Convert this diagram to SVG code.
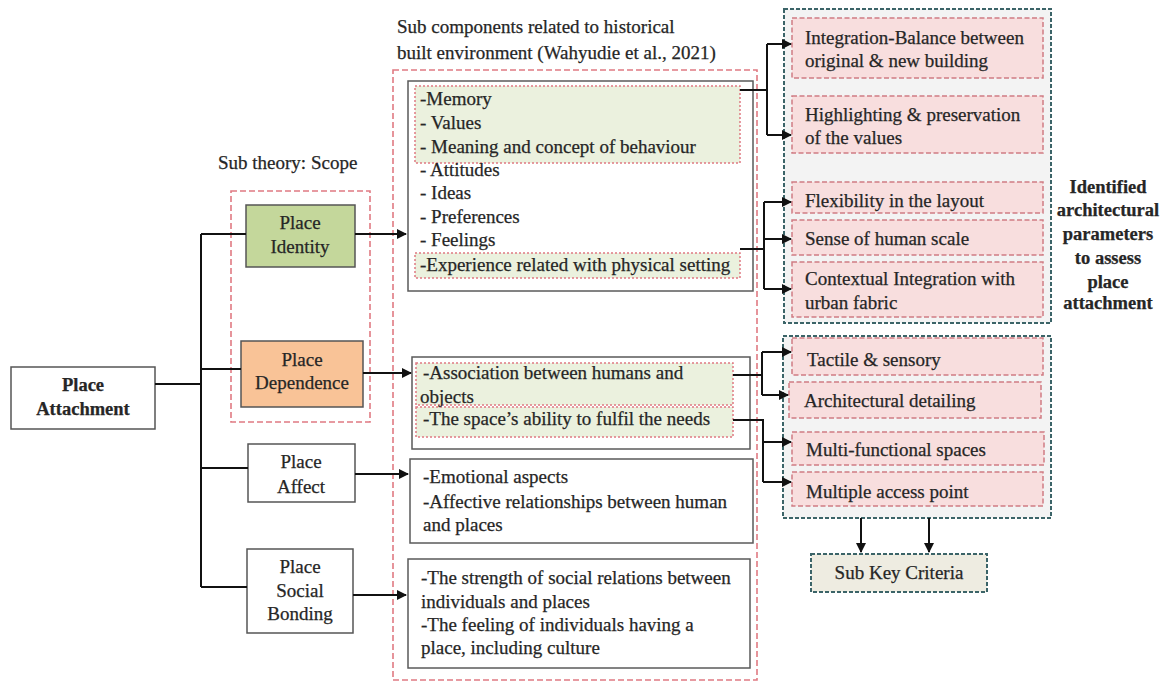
<svg xmlns="http://www.w3.org/2000/svg" width="1166" height="681" viewBox="0 0 1166 681">
<defs>
<style>
text{font-family:"Liberation Serif","Times New Roman",serif;font-size:19px;fill:#262626;stroke:#262626;stroke-width:0.25}
.b{font-weight:bold;font-size:18.5px}
.c{text-anchor:middle}
.node{fill:#fff;stroke:#555;stroke-width:1.5}
.inner{fill:#fff;stroke:#5a5a5a;stroke-width:1.5}
.reddash{fill:none;stroke:#e07a82;stroke-width:1.6;stroke-dasharray:6 3}
.greendot{fill:#ebf1de;stroke:#e07a82;stroke-width:1.5;stroke-dasharray:2 2}
.teal{fill:#f3f3f3;stroke:#3b6468;stroke-width:2;stroke-dasharray:4 2}
.pink{fill:#f8dede;stroke:#d07c84;stroke-width:1.5;stroke-dasharray:5 2.5}
.conn{fill:none;stroke:#111;stroke-width:2}
</style>
<marker id="ah" viewBox="0 0 10 10" refX="9" refY="5" markerWidth="5" markerHeight="5" orient="auto">
<path d="M0,0 L10,5 L0,10 z" fill="#111"/>
</marker>
</defs>
<rect width="1166" height="681" fill="#fff"/>

<g id="scope-group">
<text x="218" y="169">Sub theory: Scope</text>
<rect class="reddash" x="231" y="191" width="139" height="231"/>
</g>

<g id="subcomp-group">
<text x="397" y="33">Sub components related to historical</text>
<text x="397" y="59">built environment (Wahyudie et al., 2021)</text>
<rect class="reddash" x="393" y="70" width="364" height="610"/>
</g>

<g id="place-attachment">
<rect class="node" x="11" y="367" width="144" height="62"/>
<text class="b c" x="83" y="391">Place</text>
<text class="b c" x="83" y="415">Attachment</text>
</g>

<g id="place-identity">
<rect class="node" x="246" y="205" width="109" height="62" style="fill:#c4d79b"/>
<text class="c" x="300" y="229">Place</text>
<text class="c" x="300" y="253">Identity</text>
</g>

<g id="place-dependence">
<rect class="node" x="241" y="341" width="122" height="66" style="fill:#f9c397"/>
<text class="c" x="302" y="366">Place</text>
<text class="c" x="302" y="389">Dependence</text>
</g>

<g id="place-affect">
<rect class="node" x="248" y="444" width="107" height="58"/>
<text class="c" x="301" y="468">Place</text>
<text class="c" x="301" y="493">Affect</text>
</g>

<g id="place-social">
<rect class="node" x="247" y="549" width="106" height="84"/>
<text class="c" x="300" y="573">Place</text>
<text class="c" x="300" y="597">Social</text>
<text class="c" x="300" y="620">Bonding</text>
</g>

<g id="identity-components">
<rect class="inner" x="408" y="81" width="345" height="210"/>
<rect class="greendot" x="415" y="86" width="325" height="77"/>
<rect class="greendot" x="415" y="253" width="325" height="25"/>
<text x="420" y="105">-Memory</text>
<text x="420" y="129">- Values</text>
<text x="420" y="153">- Meaning and concept of behaviour</text>
<text x="420" y="176">- Attitudes</text>
<text x="420" y="199">- Ideas</text>
<text x="420" y="223">- Preferences</text>
<text x="420" y="246">- Feelings</text>
<text x="420" y="271">-Experience related with physical setting</text>
</g>

<g id="dependence-components">
<rect class="inner" x="412" y="357" width="338" height="92"/>
<rect class="greendot" x="416" y="363" width="317" height="42"/>
<rect class="greendot" x="416" y="407" width="317" height="30"/>
<text x="423" y="379">-Association between humans and</text>
<text x="420" y="403">objects</text>
<text x="423" y="425">-The space’s ability to fulfil the needs</text>
</g>

<g id="affect-components">
<rect class="inner" x="410" y="459" width="343" height="84"/>
<text x="423" y="483">-Emotional aspects</text>
<text x="423" y="508">-Affective relationships between human</text>
<text x="423" y="531">and places</text>
</g>

<g id="social-components">
<rect class="inner" x="408" y="559" width="342" height="109"/>
<text x="421" y="584">-The strength of social relations between</text>
<text x="421" y="608">individuals and places</text>
<text x="421" y="631">-The feeling of individuals having a</text>
<text x="421" y="654">place, including culture</text>
</g>

<g id="parameters-group-1">
<rect class="teal" x="784" y="9" width="267" height="314"/>
<rect class="pink" x="792" y="18" width="251" height="60"/>
<text x="805" y="44">Integration-Balance between</text>
<text x="805" y="67">original &amp; new building</text>
<rect class="pink" x="792" y="96" width="251" height="57"/>
<text x="805" y="121">Highlighting &amp; preservation</text>
<text x="805" y="144">of the values</text>
<rect class="pink" x="792" y="182" width="251" height="31"/>
<text x="805" y="207">Flexibility in the layout</text>
<rect class="pink" x="792" y="220" width="251" height="35"/>
<text x="805" y="245">Sense of human scale</text>
<rect class="pink" x="792" y="262" width="251" height="55"/>
<text x="805" y="285">Contextual Integration with</text>
<text x="805" y="309">urban fabric</text>
</g>

<g id="parameters-group-2">
<rect class="teal" x="783" y="336" width="268" height="182"/>
<rect class="pink" x="792" y="338" width="251" height="37"/>
<text x="807" y="366">Tactile &amp; sensory</text>
<rect class="pink" x="789" y="382" width="252" height="36"/>
<text x="804" y="407">Architectural detailing</text>
<rect class="pink" x="792" y="432" width="252" height="33"/>
<text x="806" y="456">Multi-functional spaces</text>
<rect class="pink" x="792" y="472" width="251" height="34"/>
<text x="806" y="498">Multiple access point</text>
</g>

<g id="parameters-label">
<text class="b c" x="1108" y="193">Identified</text>
<text class="b c" x="1108" y="216">architectural</text>
<text class="b c" x="1108" y="240">parameters</text>
<text class="b c" x="1108" y="264">to assess</text>
<text class="b c" x="1108" y="288">place</text>
<text class="b c" x="1108" y="309">attachment</text>
</g>

<g id="sub-key-criteria">
<rect x="811" y="554" width="176" height="38" style="fill:#eeece1;stroke:#3b6468;stroke-width:2;stroke-dasharray:4 2"/>
<text class="c" x="899" y="579">Sub Key Criteria</text>
</g>

<g id="connectors">
<path class="conn" d="M155,384 H201 M201,234 V587 M201,234 H246 M201,369 H241 M201,468 H248 M201,587 H247"/>
<path class="conn" d="M355,234 H406" marker-end="url(#ah)"/>
<path class="conn" d="M363,373 H411" marker-end="url(#ah)"/>
<path class="conn" d="M355,474 H408" marker-end="url(#ah)"/>
<path class="conn" d="M353,595 H406" marker-end="url(#ah)"/>
<path class="conn" d="M740,90 H767 M767,44 V135"/>
<path class="conn" d="M767,44 H791" marker-end="url(#ah)"/>
<path class="conn" d="M767,135 H791" marker-end="url(#ah)"/>
<path class="conn" d="M740,249 H764 M764,202 V289"/>
<path class="conn" d="M764,202 H791" marker-end="url(#ah)"/>
<path class="conn" d="M764,239 H791" marker-end="url(#ah)"/>
<path class="conn" d="M764,289 H791" marker-end="url(#ah)"/>
<path class="conn" d="M733,375 H762 M762,352 V395"/>
<path class="conn" d="M762,352 H791" marker-end="url(#ah)"/>
<path class="conn" d="M762,395 H788" marker-end="url(#ah)"/>
<path class="conn" d="M733,420 H763 V482"/>
<path class="conn" d="M763,442 H791" marker-end="url(#ah)"/>
<path class="conn" d="M763,482 H791" marker-end="url(#ah)"/>
<path class="conn" d="M861,518 V552" marker-end="url(#ah)"/>
<path class="conn" d="M929,518 V552" marker-end="url(#ah)"/>
</g>
</svg>
